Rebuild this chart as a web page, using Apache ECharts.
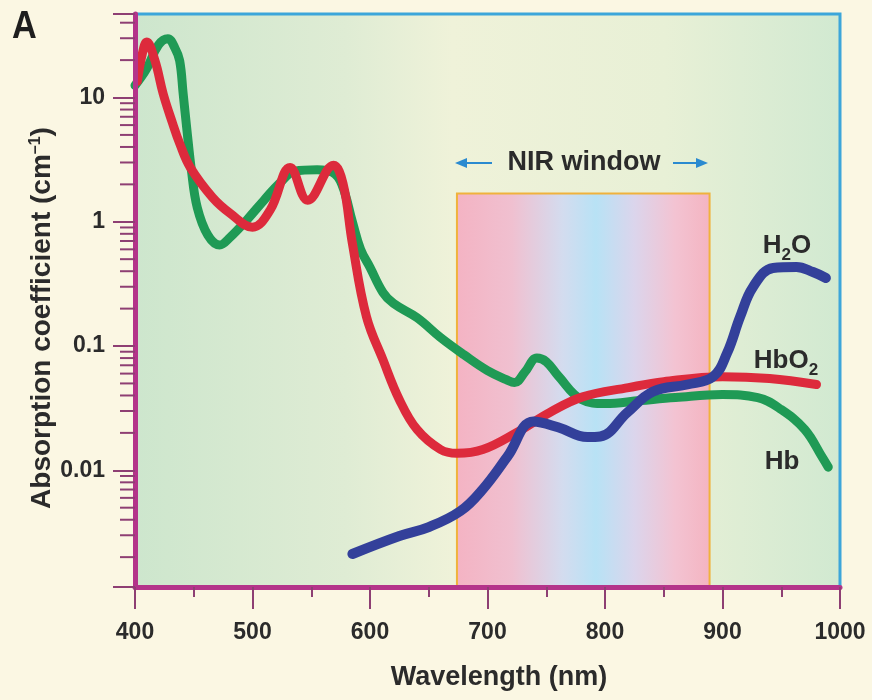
<!DOCTYPE html>
<html lang="en">
<head>
<meta charset="UTF-8">
<title>Absorption coefficient</title>
<script src="https://cdn.jsdelivr.net/npm/echarts@6/dist/echarts.min.js"></script>
<style>
html, body { margin: 0; padding: 0; background: #fbf7e3; }
#container { width: 872px; height: 700px; }
</style>
</head>
<body>
<div id="container"></div>
<script>
// wavelength (nm) / absorption coefficient (cm^-1)
var hbNm  = [400, 410, 420, 428, 434, 438, 441, 444, 448, 453, 462, 472, 481, 495, 510, 523, 536, 555, 568, 576, 585, 592, 600, 611, 620, 640, 660, 680, 700, 716, 723, 732, 742, 750, 760, 780, 800, 830, 860, 900, 930, 950, 970, 985, 990];
var hbVal = [12.5, 17.1, 26.5, 29.7, 25, 19.8, 10.7, 5.7, 2.6, 1.3, 0.78, 0.65, 0.75, 1.03, 1.5, 2.04, 2.55, 2.62, 2.5, 2.0, 1.0, 0.6, 0.43, 0.27, 0.22, 0.169, 0.117, 0.085, 0.0634, 0.0537, 0.0508, 0.062, 0.080, 0.0748, 0.0578, 0.0371, 0.0344, 0.0364, 0.0385, 0.0407, 0.0385, 0.0308, 0.0213, 0.0127, 0.0106];

var hbo2Nm  = [402, 406, 410, 417, 424, 432, 438, 447, 466, 481, 500, 515, 532, 547, 569, 577, 585, 597, 611, 625, 640, 660, 674, 696, 725, 753, 781, 820, 850, 900, 940, 980];
var hbo2Val = [13.5, 22, 28, 19.8, 10.7, 6.2, 4.27, 2.74, 1.57, 1.17, 0.905, 1.24, 2.74, 1.49, 2.85, 2.04, 0.67, 0.172, 0.0776, 0.037, 0.0213, 0.0147, 0.0137, 0.0147, 0.0202, 0.0292, 0.039, 0.0463, 0.0517, 0.0567, 0.0547, 0.049];

var h2oNm  = [585, 625, 650, 677, 696, 717, 739, 760, 785, 796, 819, 841, 870, 892, 904, 915, 926, 943, 963, 977, 988];
var h2oVal = [0.00212, 0.00296, 0.00349, 0.0047, 0.00705, 0.0129, 0.0247, 0.0222, 0.0185, 0.0187, 0.0292, 0.043, 0.049, 0.0567, 0.0883, 0.172, 0.299, 0.425, 0.433, 0.394, 0.353];

var nirRange = [674, 889];   // NIR window, nm
var nirTop = 1.69;
var yMin = 0.00115, yMax = 47;

function pairs(xs, ys) {
    return xs.map(function (x, i) { return [x, ys[i]]; });
}

// log minor ticks 2..9 of every decade
var minorTicks = [];
for (var k = -3; k <= 1; k++) {
    for (var m = 2; m <= 9; m++) {
        var v = m * Math.pow(10, k);
        if (v > yMin && v < yMax) minorTicks.push([400, v]);
    }
}

var FONT = '"Liberation Sans", Arial, sans-serif';
var TXT = '#2b2b2b';
var AXIS = '#b4348a';
var TICK = '#8e3f73';

var myChart = echarts.init(document.getElementById('container'));

function lineSeries(name, data, color, width) {
    return {
        name: name, type: 'line', data: data, smooth: 0.4, symbol: 'none', z: 3,
        lineStyle: { color: color, width: width, cap: 'round', join: 'round' }
    };
}

function arrow(x1, x2, y) {
    var dir = x2 > x1 ? 1 : -1;
    return [
        { type: 'line', shape: { x1: x1, y1: y, x2: x2 - dir * 8, y2: y }, style: { stroke: '#2a8ad0', lineWidth: 2 }, z: 20 },
        { type: 'polygon', shape: { points: [[x2, y], [x2 - dir * 12, y - 5], [x2 - dir * 12, y + 5]] }, style: { fill: '#2a8ad0' }, z: 20 }
    ];
}

var subStyle = { fontSize: 17, fontWeight: 'bold', fontFamily: FONT, fill: TXT, padding: [18, 0, 0, 0] };

var option = {
    animation: false,
    backgroundColor: '#fbf7e3',
    grid: {
        left: 135, right: 32, top: 14, bottom: 113,
        show: true,
        borderColor: '#3ca6da', borderWidth: 3,
        backgroundColor: new echarts.graphic.LinearGradient(0, 0, 1, 0, [
            { offset: 0, color: '#cde6cd' },
            { offset: 0.3, color: '#dfecd4' },
            { offset: 0.45, color: '#eff2d9' },
            { offset: 0.75, color: '#e8f0d6' },
            { offset: 1, color: '#d1e9d1' }
        ])
    },
    xAxis: {
        type: 'value', min: 400, max: 1000, interval: 100, z: 10,
        splitLine: { show: false },
        axisLine: { lineStyle: { color: AXIS, width: 5 } },
        axisTick: { length: 22, lineStyle: { color: TICK, width: 2 } },
        minorTick: { show: true, splitNumber: 2, length: 10, lineStyle: { color: TICK, width: 2 } },
        axisLabel: {
            fontSize: 23, fontWeight: 'bold', fontFamily: FONT, color: TXT, margin: 34,
            formatter: function (v) { return String(v); }
        }
    },
    yAxis: {
        type: 'log', min: yMin, max: yMax, z: 10,
        splitLine: { show: false },
        axisLine: { lineStyle: { color: AXIS, width: 5 } },
        axisTick: { length: 22, lineStyle: { color: TICK, width: 2 } },
        axisLabel: {
            fontSize: 23, fontWeight: 'bold', fontFamily: FONT, color: TXT, margin: 30,
            formatter: function (v) {
                var l = Math.log10(v), r = Math.round(l);
                if (Math.abs(l - r) > 1e-6) return '';
                return r >= 0 ? String(Math.pow(10, r)) : Math.pow(10, r).toFixed(-r);
            }
        }
    },
    graphic: [
        { type: 'text', x: 12, y: 8, scaleX: 0.88, z: 20,
          style: { text: 'A', fontSize: 39, fontWeight: 'bold', fontFamily: FONT, fill: '#1e1e1e', verticalAlign: 'top' } },
        { type: 'text', x: 42, y: 318, rotation: Math.PI / 2, z: 20,
          style: { text: 'Absorption coefficient (cm{sup|–1})', fontSize: 28, fontWeight: 'bold', fontFamily: FONT, fill: TXT,
                   align: 'center', verticalAlign: 'middle',
                   rich: { sup: { fontSize: 16, fontWeight: 'bold', fontFamily: FONT, fill: TXT, verticalAlign: 'top', padding: [0, 0, 10, 0] } } } },
        { type: 'text', x: 499, y: 678, z: 20,
          style: { text: 'Wavelength (nm)', fontSize: 27, fontWeight: 'bold', fontFamily: FONT, fill: TXT, align: 'center', verticalAlign: 'middle' } },
        { type: 'text', x: 584, y: 163, z: 20,
          style: { text: 'NIR window', fontSize: 27, fontWeight: 'bold', fontFamily: FONT, fill: TXT, align: 'center', verticalAlign: 'middle' } },
        { type: 'text', x: 787, y: 246, z: 20,
          style: { text: 'H{sub|2}O', fontSize: 26, fontWeight: 'bold', fontFamily: FONT, fill: TXT, align: 'center', verticalAlign: 'middle',
                   rich: { sub: subStyle } } },
        { type: 'text', x: 786, y: 361, z: 20,
          style: { text: 'HbO{sub|2}', fontSize: 26, fontWeight: 'bold', fontFamily: FONT, fill: TXT, align: 'center', verticalAlign: 'middle',
                   rich: { sub: subStyle } } },
        { type: 'text', x: 782, y: 462, z: 20,
          style: { text: 'Hb', fontSize: 26, fontWeight: 'bold', fontFamily: FONT, fill: TXT, align: 'center', verticalAlign: 'middle' } }
    ].concat(arrow(492, 455, 163), arrow(673, 708, 163)),
    series: [
        {
            name: 'NIR window', type: 'line', data: [], z: 1, silent: true,
            markArea: {
                silent: true,
                itemStyle: {
                    color: new echarts.graphic.LinearGradient(0, 0, 1, 0, [
                        { offset: 0, color: '#f4b3c3' },
                        { offset: 0.22, color: '#f0c0d0' },
                        { offset: 0.42, color: '#d3dcef' },
                        { offset: 0.55, color: '#b8e2f5' },
                        { offset: 0.7, color: '#dbd5ec' },
                        { offset: 0.86, color: '#f3c3d2' },
                        { offset: 1, color: '#f4b4c1' }
                    ]),
                    borderColor: '#f0b23c', borderWidth: 2
                },
                data: [[{ xAxis: nirRange[0], yAxis: nirTop }, { xAxis: nirRange[1], yAxis: yMin }]]
            }
        },
        lineSeries('Hb', pairs(hbNm, hbVal), '#1f9a55', 9),
        lineSeries('HbO2', pairs(hbo2Nm, hbo2Val), '#dd2a3c', 9),
        lineSeries('H2O', pairs(h2oNm, h2oVal), '#33409a', 10),
        {
            name: 'minor ticks', type: 'custom', data: minorTicks, z: 11, silent: true, clip: false,
            encode: { x: 0, y: 1 },
            renderItem: function (params, api) {
                var p = api.coord([api.value(0), api.value(1)]);
                return { type: 'line', shape: { x1: p[0] - 15, y1: p[1], x2: p[0], y2: p[1] },
                         style: { stroke: TICK, lineWidth: 2 } };
            }
        }
    ]
};

myChart.setOption(option);
</script>
</body>
</html>
